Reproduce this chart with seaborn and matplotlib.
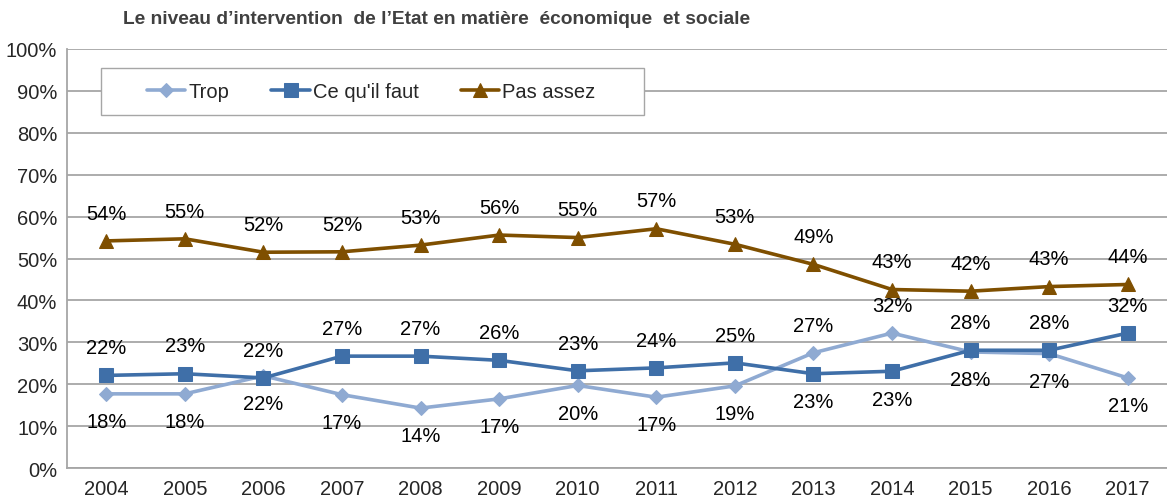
import pandas as pd
import matplotlib
matplotlib.use("Agg")
import matplotlib.pyplot as plt
import seaborn as sns
from matplotlib.ticker import FixedLocator
from matplotlib.patches import Rectangle

# Données
annees = list(range(2004, 2018))
trop = [17.7, 17.7, 22.0, 17.5, 14.3, 16.5, 19.7, 16.9, 19.6, 27.5, 32.2, 27.7, 27.3, 21.5]
ce_quil_faut = [22.1, 22.5, 21.5, 26.7, 26.7, 25.7, 23.2, 23.9, 25.1, 22.5, 23.1, 28.1, 28.1, 32.2]
pas_assez = [54.2, 54.7, 51.5, 51.6, 53.2, 55.6, 55.0, 57.1, 53.4, 48.6, 42.6, 42.2, 43.3, 43.8]
lbl_trop = [18, 18, 22, 17, 14, 17, 20, 17, 19, 27, 32, 28, 27, 21]
lbl_ce = [22, 23, 22, 27, 27, 26, 23, 24, 25, 23, 23, 28, 28, 32]
lbl_pas = [54, 55, 52, 52, 53, 56, 55, 57, 53, 49, 43, 42, 43, 44]

series = ["Trop", "Ce qu'il faut", "Pas assez"]
couleurs = {"Trop": "#8FAAD2", "Ce qu'il faut": "#3F6FA8", "Pas assez": "#7F4F00"}
marqueurs = {"Trop": "D", "Ce qu'il faut": "s", "Pas assez": "^"}
tailles = {"Trop": 7.5, "Ce qu'il faut": 9.5, "Pas assez": 10}

df = pd.DataFrame({
    "Annee": annees * 3,
    "Valeur": trop + ce_quil_faut + pas_assez,
    "Serie": ["Trop"] * 14 + ["Ce qu'il faut"] * 14 + ["Pas assez"] * 14,
})

sns.set_style("white")
plt.rcParams["font.family"] = ["Liberation Sans", "DejaVu Sans"]
fs = 14.5

fig = plt.figure(figsize=(11.67, 5.02), dpi=100)
ax = fig.add_axes([0.0574, 0.0657, 0.9426, 0.8347])

for s in series:
    sns.lineplot(
        data=df[df["Serie"] == s], x="Annee", y="Valeur", ax=ax,
        color=couleurs[s], marker=marqueurs[s], markersize=tailles[s],
        markeredgecolor=couleurs[s], linewidth=2.6, label=s,
    )

# Étiquettes de données
def etiquettes(valeurs, labels, dessus):
    for x, v, l, d in zip(annees, valeurs, labels, dessus):
        ax.annotate(f"{l}%", (x, v), xytext=(0, 20 if d else -20),
                    textcoords="offset points", ha="center", va="center",
                    fontsize=fs, color="#000000")

etiquettes(pas_assez, lbl_pas, [True] * 14)
dessus_ce = [a not in (2013, 2014) for a in annees]
etiquettes(ce_quil_faut, lbl_ce, dessus_ce)
etiquettes(trop, lbl_trop, [not d for d in dessus_ce])

ax.set_xlim(2003.5, 2017.5)
ax.set_ylim(0, 100)
ax.set_yticks(range(0, 101, 10))
ax.set_yticklabels([f"{v}%" for v in range(0, 101, 10)], fontsize=fs)
ax.set_xticks(annees)
ax.set_xticklabels([str(a) for a in annees], fontsize=fs)
ax.xaxis.set_minor_locator(FixedLocator([a - 0.5 for a in annees] + [2017.5]))
ax.tick_params(axis="x", which="major", length=0, pad=8)
ax.tick_params(axis="x", which="minor", length=6, color="#A6A6A6", width=1.2)
ax.tick_params(axis="y", length=6, color="#A6A6A6", width=1.2, pad=1)
ax.yaxis.grid(True, color="#A6A6A6", linewidth=1.3)
ax.set_axisbelow(True)
ax.set_xlabel("")
ax.set_ylabel("")
for side in ["top", "right"]:
    ax.spines[side].set_visible(False)
for side in ["left", "bottom"]:
    ax.spines[side].set_color("#A6A6A6")
    ax.spines[side].set_linewidth(1.3)

# Cadre de la légende
ax.add_patch(Rectangle((0.0309, 0.8425), 0.4936, 0.1122, transform=ax.transAxes,
                       facecolor="white", edgecolor="#A6A6A6", linewidth=1.0, zorder=4))
leg = ax.legend(loc="center left", bbox_to_anchor=(0.0727, 0.8986), ncol=3,
                fontsize=fs, frameon=False, handlelength=1.9,
                handletextpad=0.15, columnspacing=2.1, borderpad=0,
                borderaxespad=0)
leg.set_zorder(5)

fig.text(0.374, 0.962, "Le niveau d’intervention  de l’Etat en matière  économique  et sociale",
         ha="center", va="center", fontsize=13.8, fontweight="bold", color="#404040")

plt.savefig("out.png", dpi=100)
plt.close()
